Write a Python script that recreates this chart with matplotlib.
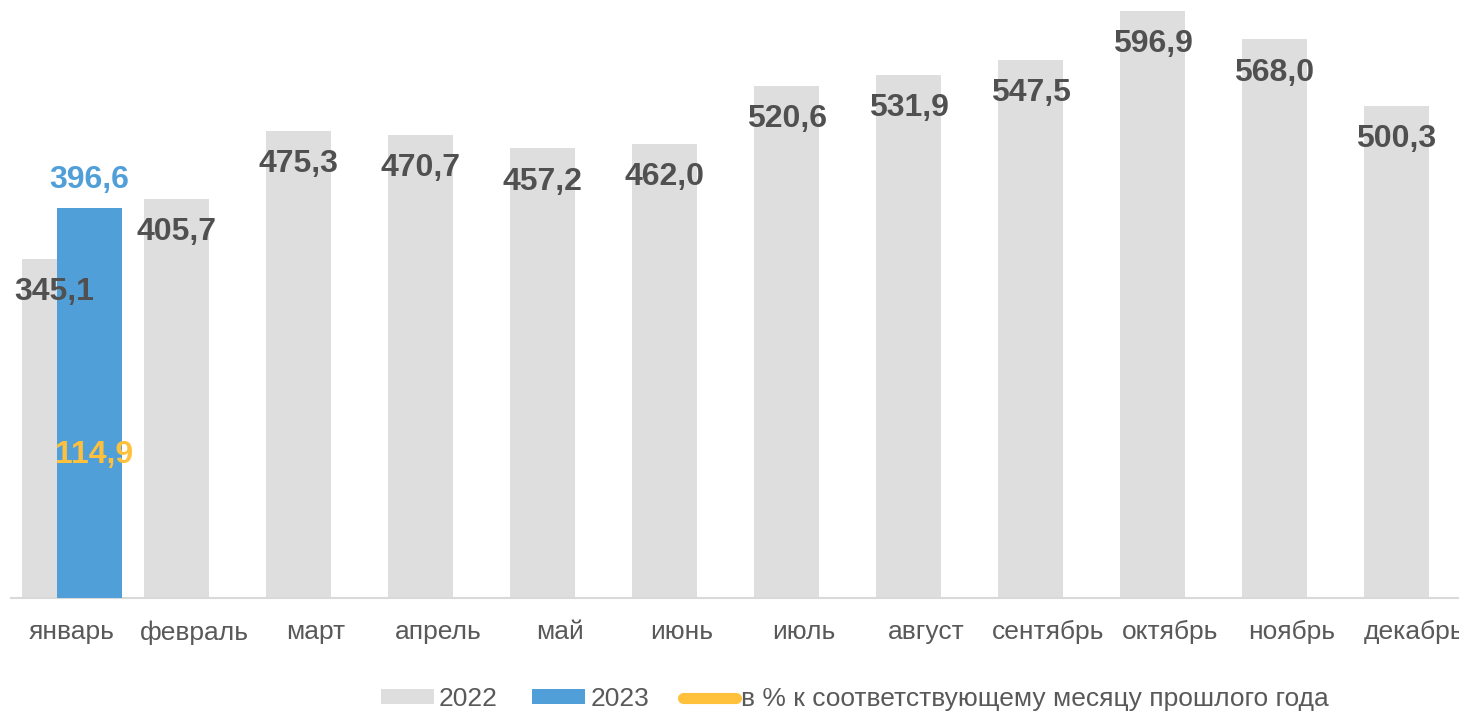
"""Monthly values 2022 vs 2023 with percentage to the same month of the previous year."""

import matplotlib
matplotlib.use("Agg")
import matplotlib.pyplot as plt
from matplotlib.lines import Line2D
from matplotlib.patches import Patch

months = ["январь", "февраль", "март", "апрель", "май", "июнь",
          "июль", "август", "сентябрь", "октябрь", "ноябрь", "декабрь"]
values_2022 = [345.1, 405.7, 475.3, 470.7, 457.2, 462.0,
               520.6, 531.9, 547.5, 596.9, 568.0, 500.3]
values_2023 = [396.6]
pct_prev_year = [114.9]

GREY = "#DEDEDE"
BLUE = "#519FD8"
YELLOW = "#FFC13B"
TEXT = "#595959"


def fmt(v):
    return f"{v:.1f}".replace(".", ",")


def main() -> None:
    plt.rcParams["font.family"] = ["Liberation Sans", "DejaVu Sans"]

    fig = plt.figure(figsize=(14.59, 7.11), dpi=100)
    ax = fig.add_axes([11 / 1459, 113 / 711, 1464 / 1459, 590 / 711])

    width = 0.533
    offset = 0.143
    x22 = [i - offset for i in range(len(values_2022))]
    x23 = [i + offset for i in range(len(values_2023))]

    ax.bar(x22, values_2022, width=width, color=GREY, zorder=2)
    ax.bar(x23, values_2023, width=width, color=BLUE, zorder=3)

    for x, v in zip(x22, values_2022):
        ax.annotate(fmt(v), (x, v), xytext=(0, -24), textcoords="offset points",
                    ha="center", va="center", fontsize=23, fontweight="bold",
                    color="#505050", zorder=5)
    for x, v in zip(x23, values_2023):
        ax.annotate(fmt(v), (x, v), xytext=(0, 20), textcoords="offset points",
                    ha="center", va="center", fontsize=23, fontweight="bold",
                    color=BLUE, zorder=5)

    ax.set_xlim(-0.5, 11.5)
    ax.set_ylim(0, 600)
    ax.set_xticks(range(len(months)))
    ax.set_xticklabels(months, fontsize=19, color=TEXT)
    ax.tick_params(axis="x", length=0, pad=16)
    ax.set_yticks([])
    for side in ("top", "right", "left"):
        ax.spines[side].set_visible(False)
    ax.spines["bottom"].set_color("#D9D9D9")
    ax.spines["bottom"].set_linewidth(1.5)

    # secondary axis for the percentage series
    ax2 = ax.twinx()
    ax2.set_ylim(0, 464)
    ax2.plot([0.18], pct_prev_year, color=YELLOW, linewidth=6)
    for v in pct_prev_year:
        ax2.annotate(fmt(v), (0.18, v), xytext=(0, -2), textcoords="offset points",
                     ha="center", va="center", fontsize=23,
                     fontweight="bold", color=YELLOW, zorder=6)
    ax2.set_yticks([])
    ax2.axis("off")

    handles = [
        Patch(facecolor=GREY, edgecolor="none"),
        Patch(facecolor=BLUE, edgecolor="none"),
        Line2D([0], [0], color=YELLOW, linewidth=8, solid_capstyle="round"),
    ]
    labels = ["2022", "2023", "в % к соответствующему месяцу прошлого года"]
    fig.legend(handles, labels, loc="center", bbox_to_anchor=(855 / 1459, 12 / 711),
               ncol=3, frameon=False, fontsize=19, labelcolor=TEXT,
               handlelength=2.0, handleheight=0.5, handletextpad=0.2,
               columnspacing=1.3, borderpad=0, borderaxespad=0)

    fig.savefig("out.png", dpi=100)
    plt.close(fig)


if __name__ == "__main__":
    main()
